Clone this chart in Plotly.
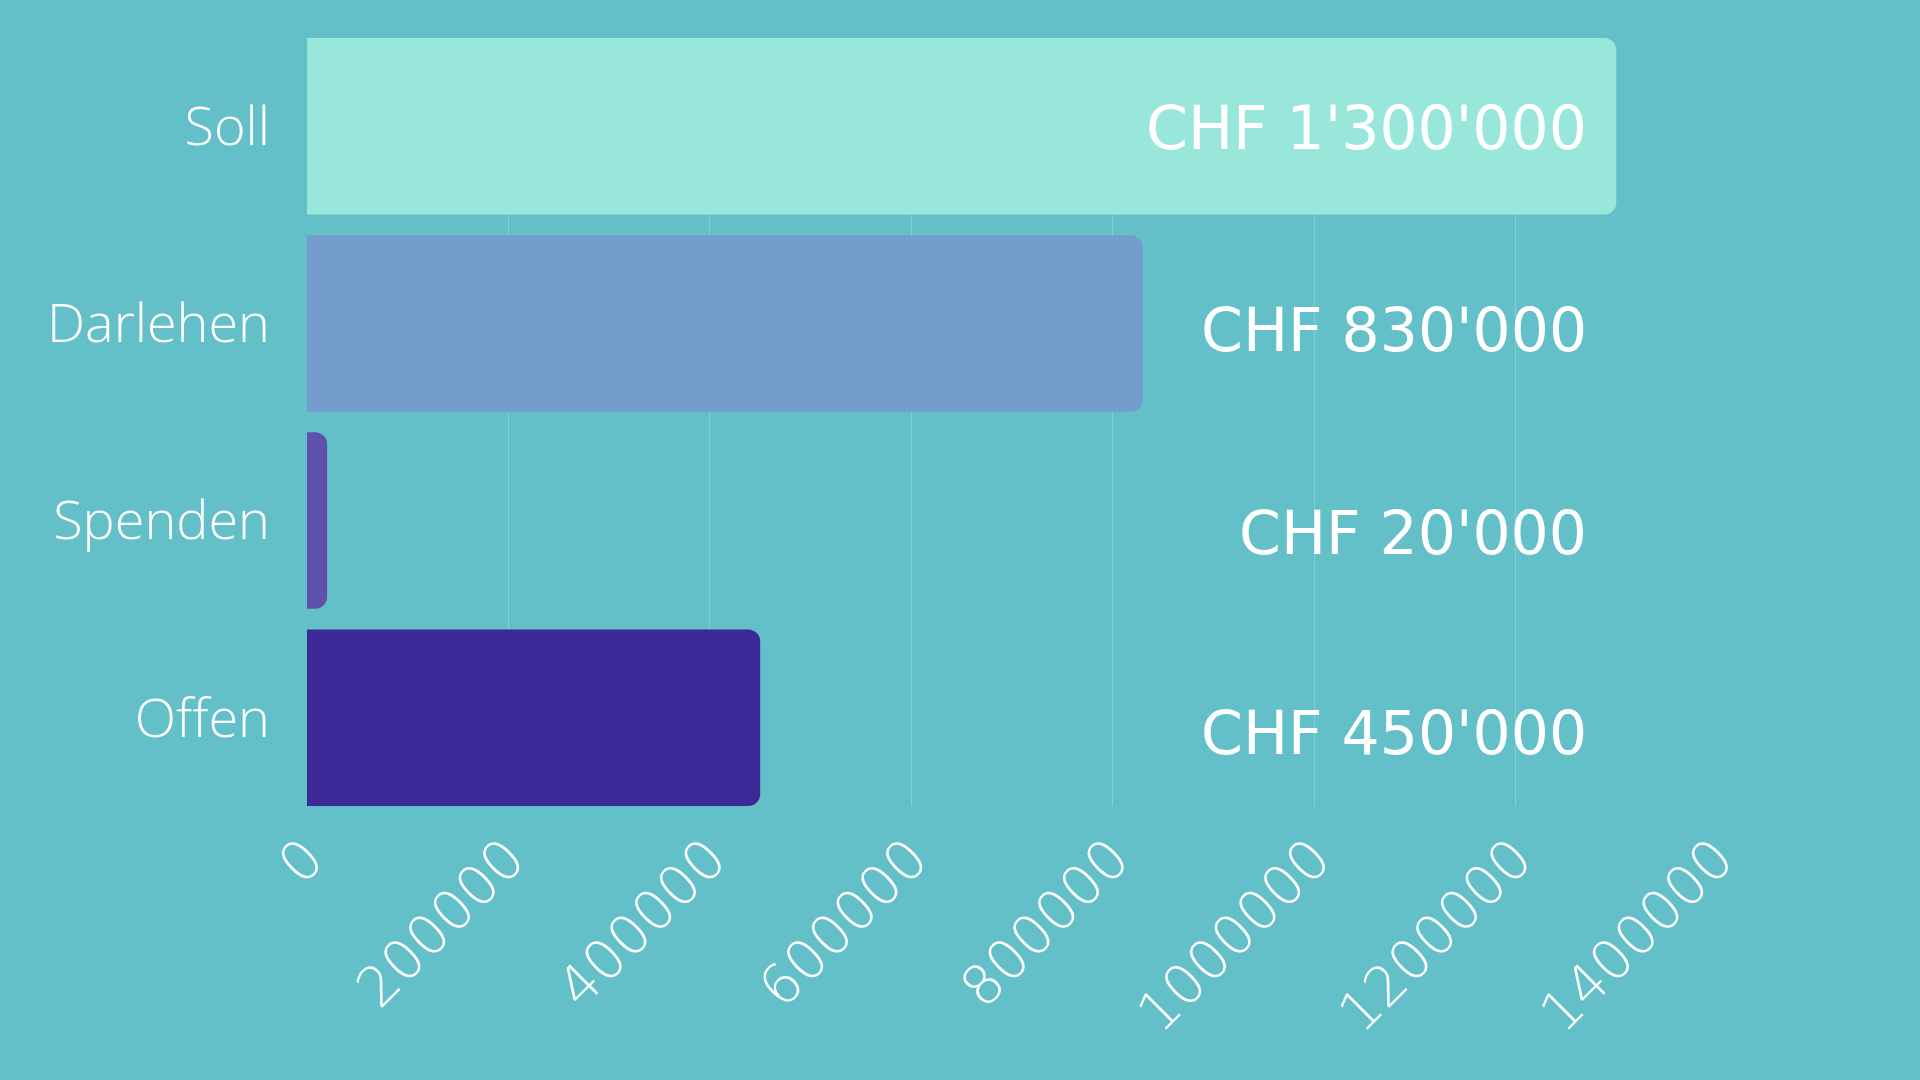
import plotly.graph_objects as go

# Finanzierung data
categories = ["Soll", "Darlehen", "Spenden", "Offen"]
amounts = [1300000, 830000, 20000, 450000]
value_labels = ["CHF 1'300'000", "CHF 830'000", "CHF 20'000", "CHF 450'000"]
bar_colors = ["#99E7DA", "#749DCE", "#5F50AE", "#3C2896"]
x_ticks = [0, 200000, 400000, 600000, 800000, 1000000, 1200000, 1400000]

bg = "#64C0C8"

fig = go.Figure()
fig.add_trace(go.Bar(
    x=amounts,
    y=categories,
    orientation="h",
    marker=dict(color=bar_colors, line=dict(width=0)),
    hoverinfo="x+y",
))

# value labels, right aligned in a column
label_shift = [-2, -7, -12, -15]
for cat, txt, dy in zip(categories, value_labels, label_shift):
    fig.add_annotation(
        x=0.909, xref="paper", xanchor="right",
        y=cat, yref="y", yanchor="middle", yshift=dy,
        text=txt, showarrow=False,
        font=dict(family="DejaVu Sans", size=60, color="white"),
    )

fig.update_layout(
    width=1920, height=1080,
    paper_bgcolor=bg, plot_bgcolor=bg,
    margin=dict(l=307, r=203, t=38, b=274),
    bargap=0.105,
    barcornerradius=12,
    showlegend=False,
)
fig.update_xaxes(
    range=[0, 1400000],
    tickvals=x_ticks,
    ticktext=[str(v) for v in x_ticks],
    tickangle=-45,
    tickfont=dict(family="DejaVu Sans", size=55, color="white", weight=200),
    showgrid=True, gridcolor="rgba(255,255,255,0.22)", gridwidth=1,
    zeroline=False, showline=False, ticks="",
    ticklabelstandoff=8,
)
fig.update_yaxes(
    categoryorder="array", categoryarray=categories,
    range=[3.4475, -0.4475],
    tickfont=dict(family="Open Sans", size=54, color="white", weight=300),
    showgrid=False, zeroline=False, showline=False, ticks="",
    ticklabelstandoff=36,
)

# drop the default page margin so the chart fills the window
fig.write_html("out.html", config={"displayModeBar": False},
               post_script="document.body.style.margin='0';")
